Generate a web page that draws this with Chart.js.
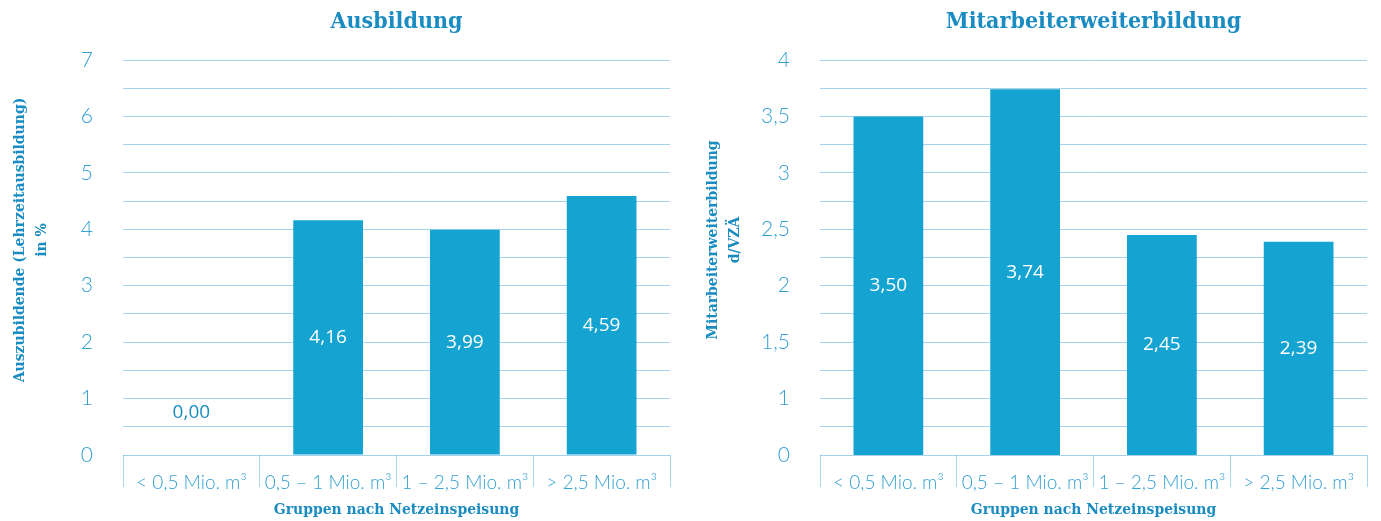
<!DOCTYPE html>
<html>
<head>
<meta charset="utf-8">
<script src="https://cdn.jsdelivr.net/npm/chart.js@4.4.0/dist/chart.umd.min.js"></script>
<style>
  html, body { margin: 0; padding: 0; background: #fff; }
  .wrap { position: absolute; top: 0; height: 521px; }
  #left { left: 0; width: 690px; }
  #right { left: 690px; width: 691px; }
</style>
</head>
<body>
<div class="wrap" id="left"><canvas id="ausbildungChart"></canvas></div>
<div class="wrap" id="right"><canvas id="weiterbildungChart"></canvas></div>
<script>
// Data
const groups = ['< 0,5 Mio. m³', '0,5 – 1 Mio. m³', '1 – 2,5 Mio. m³', '> 2,5 Mio. m³'];
const ausbildungValues = [0.00, 4.16, 3.99, 4.59];
const weiterbildungValues = [3.50, 3.74, 2.45, 2.39];

// tick positions and the labels printed at them
const ausbildungTickValues = [0, 1, 2, 3, 4, 5, 6, 7];
const ausbildungTickLabels = ['0', '1', '2', '3', '4', '5', '6', '7'];
// the right axis starts at 0,5 but its bottom label reads "0"
const weiterbildungTickValues = [0.5, 1, 1.5, 2, 2.5, 3, 3.5, 4];
const weiterbildungTickLabels = ['0', '1', '1,5', '2', '2,5', '3', '3,5', '4'];

const BAR = '#15a4d2';
const DARK = '#1b8cc1';
const TICK = '#34a0d2';
const GRID = 'rgba(20, 140, 200, 0.38)';
const SLAB = "'DejaVu Serif Condensed', 'DejaVu Serif', serif";
const SANS = "Lato, 'Open Sans', sans-serif";

function fmt(v, digits) {
  return v.toFixed(digits).replace('.', ',');
}

// Heading, rotated y title and value labels on the bars
const decorPlugin = {
  id: 'decor',
  afterDatasetsDraw(chart, args, opts) {
    const ctx = chart.ctx;
    const area = chart.chartArea;
    ctx.save();
    ctx.textAlign = 'center';
    ctx.textBaseline = 'middle';

    ctx.font = 'bold 23px ' + SLAB;
    ctx.fillStyle = DARK;
    ctx.fillText(opts.heading, (area.left + area.right) / 2, 22);

    ctx.save();
    ctx.font = 'bold 15.5px ' + SLAB;
    ctx.translate(opts.titleX, 240);
    ctx.rotate(-Math.PI / 2);
    opts.yTitle.forEach(function(line, i) {
      ctx.fillText(line, 0, i * 22);
    });
    ctx.restore();

    const meta = chart.getDatasetMeta(0);
    ctx.font = '500 19px ' + "'Open Sans', sans-serif";
    meta.data.forEach(function(bar, i) {
      const v = chart.data.datasets[0].data[i];
      const base = Math.min(bar.base, area.bottom);
      const h = base - bar.y;
      if (h > 30) {
        ctx.fillStyle = '#ffffff';
        ctx.fillText(fmt(v, 2), bar.x, (bar.y + base) / 2);
      } else {
        ctx.fillStyle = DARK;
        ctx.fillText(fmt(v, 2), bar.x, bar.y - 42);
      }
    });
    ctx.restore();
  }
};

function makeChart(id, values, opts) {
  return new Chart(document.getElementById(id), {
    type: 'bar',
    data: {
      labels: groups,
      datasets: [{
        data: values,
        backgroundColor: BAR,
        borderWidth: 0,
        barPercentage: 0.51,
        categoryPercentage: 1
      }]
    },
    options: {
      responsive: true,
      maintainAspectRatio: false,
      animation: false,
      layout: { padding: { top: 60, right: opts.padRight, bottom: 0, left: 0 } },
      plugins: {
        legend: { display: false },
        tooltip: { enabled: false },
        decor: { heading: opts.heading, yTitle: opts.yTitle, titleX: opts.titleX }
      },
      scales: {
        x: {
          z: 1,
          border: { display: false },
          grid: {
            offset: true,
            drawOnChartArea: false,
            tickLength: 32,
            color: '#a8d8ee',
            lineWidth: 1
          },
          ticks: {
            color: TICK,
            font: { family: SANS, size: 19, weight: '300' },
            padding: -16,
            maxRotation: 0,
            autoSkip: false
          },
          title: {
            display: true,
            text: 'Gruppen nach Netzeinspeisung',
            color: DARK,
            font: { family: SLAB, size: 15.5, weight: 'bold' },
            padding: { top: 0, bottom: 2 }
          },
          afterFit(scale) { scale.height = 66; }
        },
        y: {
          z: 1,
          min: opts.tickValues[0],
          max: opts.tickValues[opts.tickValues.length - 1],
          border: { display: false },
          grid: { color: GRID, lineWidth: 1, drawTicks: false },
          ticks: {
            stepSize: opts.step,
            autoSkip: false,
            color: TICK,
            font: { family: SANS, size: 21, weight: '300' },
            padding: 30,
            callback: function(value) {
              const k = opts.tickValues.findIndex(function(t) { return Math.abs(t - value) < 1e-6; });
              return k < 0 ? '' : opts.tickLabels[k];
            }
          },
          afterFit(scale) { scale.width = opts.yWidth; }
        }
      }
    },
    plugins: [decorPlugin]
  });
}

makeChart('ausbildungChart', ausbildungValues, {
  heading: 'Ausbildung',
  yTitle: ['Auszubildende (Lehrzeitausbildung)', 'in %'],
  tickValues: ausbildungTickValues, tickLabels: ausbildungTickLabels, step: 0.5,
  yWidth: 123, padRight: 20, titleX: 20
});

makeChart('weiterbildungChart', weiterbildungValues, {
  heading: 'Mitarbeiterweiterbildung',
  yTitle: ['Mitarbeiterweiterbildung', 'd/VZÄ'],
  tickValues: weiterbildungTickValues, tickLabels: weiterbildungTickLabels, step: 0.25,
  yWidth: 130, padRight: 14, titleX: 23
});
</script>
</body>
</html>
